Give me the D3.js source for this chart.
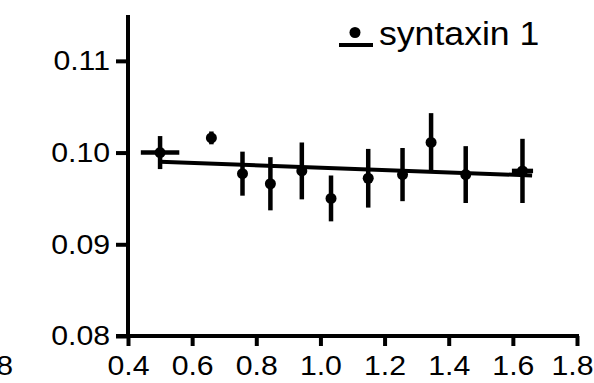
<!DOCTYPE html>
<html>
<head>
<meta charset="utf-8">
<script src="https://cdn.jsdelivr.net/npm/d3@7"></script>
<style>
  body { margin: 0; background: #fff; }
  text { font-family: "Liberation Sans", Arial, sans-serif; fill: #000; }
</style>
</head>
<body>
<div id="chart"></div>
<script>
// data
var xVals = [0.50, 0.66, 0.757, 0.844, 0.942, 1.033, 1.149, 1.256, 1.345, 1.453, 1.63];
var yVals = [0.1000, 0.1016, 0.0977, 0.0966, 0.0980, 0.0950, 0.0972, 0.0976, 0.1011, 0.0976, 0.0980];
var yErr = [0.0018, 0.0007, 0.0024, 0.0029, 0.0031, 0.0025, 0.0032, 0.0029, 0.0032, 0.0031, 0.0035];
var xErr = [0.06, 0, 0, 0, 0, 0, 0, 0, 0, 0, 0.033];
var fitX = [0.5, 1.66];
var fitY = [0.0990, 0.0975];
var xTicks = [0.4, 0.6, 0.8, 1.0, 1.2, 1.4, 1.6, 1.8];
var yTicks = [0.08, 0.09, 0.10, 0.11];
var seriesName = "syntaxin 1";

var svgWidth = 594;
var svgHeight = 383;
var margin = { top: 15, right: 16, bottom: 47, left: 128 };
var width = svgWidth - margin.left - margin.right;
var height = svgHeight - margin.top - margin.bottom;
var stretch = 1.08; // the figure's font is a bit wider than Liberation Sans

var svg = d3.select("#chart")
  .append("svg")
  .attr("width", svgWidth)
  .attr("height", svgHeight);

var chartGroup = svg.append("g")
  .attr("transform", `translate(${margin.left}, ${margin.top})`);

var xScale = d3.scaleLinear().domain([0.4, 1.8]).range([0, 449]);
var yScale = d3.scaleLinear().domain([0.08, 0.115]).range([height, 0]);

// axes
var bottomAxis = d3.axisBottom(xScale)
  .tickValues(xTicks)
  .tickSize(10)
  .tickSizeOuter(0)
  .tickPadding(9)
  .tickFormat(d3.format(".1f"));
var leftAxis = d3.axisLeft(yScale)
  .tickValues(yTicks)
  .tickSize(12)
  .tickSizeOuter(0)
  .tickPadding(6)
  .tickFormat(d3.format(".2f"));

var xAxisG = chartGroup.append("g")
  .attr("transform", `translate(0, ${height})`)
  .call(bottomAxis);
var yAxisG = chartGroup.append("g").call(leftAxis);

[xAxisG, yAxisG].forEach(function(g) {
  g.select(".domain").attr("stroke", "#000").attr("stroke-width", 4);
  g.selectAll(".tick line").attr("stroke", "#000").attr("stroke-width", 4);
  g.selectAll(".tick text").attr("font-size", "28px").attr("fill", "#000")
    .attr("font-family", "Liberation Sans, Arial, sans-serif")
    .attr("transform", `scale(${stretch},1)`);
});
yAxisG.selectAll(".tick text").attr("x", -18 / stretch);
// last label sits right at the page edge
xAxisG.selectAll(".tick text").filter(d => d === 1.8)
  .attr("text-anchor", "end")
  .attr("x", 16 / stretch);
// extend the x domain line to meet the y axis tick
xAxisG.select(".domain").attr("d", `M-12,0H${xScale(1.8) + 2}`);
yAxisG.select(".domain").attr("d", `M0,0V${height + 2}`);

// clipped label from neighbouring panel
svg.append("text")
  .attr("x", 13 / stretch)
  .attr("y", 375)
  .attr("text-anchor", "end")
  .attr("font-size", "28px")
  .attr("transform", `scale(${stretch},1)`)
  .text("1.8");

// fit line
chartGroup.append("line")
  .attr("x1", xScale(fitX[0]))
  .attr("y1", yScale(fitY[0]))
  .attr("x2", xScale(fitX[1]))
  .attr("y2", yScale(fitY[1]))
  .attr("stroke", "#000")
  .attr("stroke-width", 4);

var pts = xVals.map(function(x, i) {
  return { x: x, y: yVals[i], ey: yErr[i], ex: xErr[i] };
});

// vertical error bars
chartGroup.selectAll(".ey")
  .data(pts)
  .enter()
  .append("line")
  .attr("x1", d => xScale(d.x))
  .attr("x2", d => xScale(d.x))
  .attr("y1", d => yScale(d.y - d.ey))
  .attr("y2", d => yScale(d.y + d.ey))
  .attr("stroke", "#000")
  .attr("stroke-width", 4.5);

// horizontal error bars
chartGroup.selectAll(".ex")
  .data(pts.filter(d => d.ex > 0))
  .enter()
  .append("line")
  .attr("x1", d => xScale(d.x - d.ex))
  .attr("x2", d => xScale(d.x + d.ex))
  .attr("y1", d => yScale(d.y))
  .attr("y2", d => yScale(d.y))
  .attr("stroke", "#000")
  .attr("stroke-width", 4.5);

chartGroup.selectAll("circle")
  .data(pts)
  .enter()
  .append("circle")
  .attr("cx", d => xScale(d.x))
  .attr("cy", d => yScale(d.y))
  .attr("r", 5.5)
  .attr("fill", "#000");

// legend
var legend = svg.append("g");
legend.append("circle").attr("cx", 355).attr("cy", 32.5).attr("r", 5.5).attr("fill", "#000");
legend.append("line")
  .attr("x1", 339).attr("x2", 373)
  .attr("y1", 45).attr("y2", 45)
  .attr("stroke", "#000").attr("stroke-width", 4);
legend.append("text")
  .attr("x", 379 / stretch)
  .attr("y", 45)
  .attr("font-size", "33px")
  .attr("transform", `scale(${stretch},1)`)
  .text(seriesName);
</script>
</body>
</html>
